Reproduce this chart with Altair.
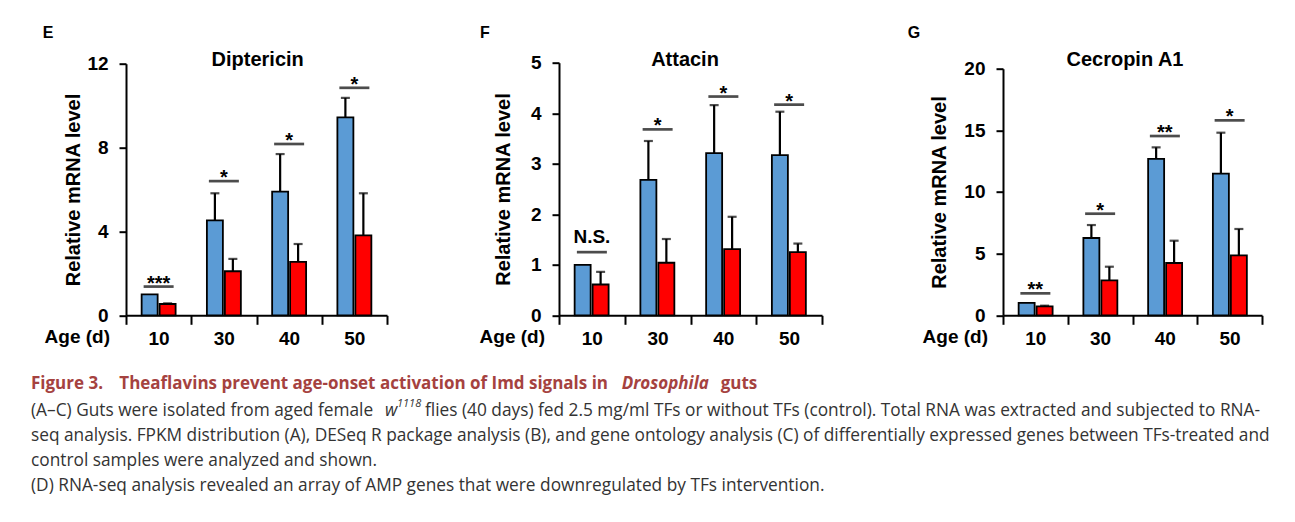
import altair as alt
import pandas as pd

# ---- data -------------------------------------------------------------
ages = ["10", "30", "40", "50"]
groups = ["Control", "TFs"]

dip_ctrl = [1.0, 4.53, 5.90, 9.44]
dip_ctrl_sd = [0.0, 1.29, 1.79, 0.93]
dip_tf = [0.54, 2.10, 2.55, 3.81]
dip_tf_sd = [0.03, 0.59, 0.85, 2.01]
dip_sig_y = [1.37, 6.40, 8.17, 10.85]
dip_sig = ["***", "*", "*", "*"]

att_ctrl = [1.0, 2.68, 3.21, 3.17]
att_ctrl_sd = [0.0, 0.77, 0.95, 0.86]
att_tf = [0.61, 1.04, 1.31, 1.25]
att_tf_sd = [0.25, 0.47, 0.64, 0.17]
att_sig_y = [1.25, 3.68, 4.33, 4.17]
att_sig = ["N.S.", "*", "*", "*"]

cec_ctrl = [1.0, 6.27, 12.68, 11.49]
cec_ctrl_sd = [0.0, 1.05, 0.94, 3.32]
cec_tf = [0.73, 2.84, 4.24, 4.86]
cec_tf_sd = [0.05, 1.10, 1.81, 2.14]
cec_sig_y = [1.78, 8.24, 14.54, 15.81]
cec_sig = ["**", "*", "**", "*"]

caption_title = ["Figure 3.", "Theaflavins prevent age-onset activation of Imd signals in",
                 "Drosophila", "guts"]
caption_line2 = ["(A\u2013C) Guts were isolated from aged female", "w", "1118",
                 "flies (40 days) fed 2.5 mg/ml TFs or without TFs (control). Total RNA was extracted and subjected to RNA-"]
caption_rest = [
    "seq analysis. FPKM distribution (A), DESeq R package analysis (B), and gene ontology analysis (C) of differentially expressed genes between TFs-treated and",
    "control samples were analyzed and shown.",
    "(D) RNA-seq analysis revealed an array of AMP genes that were downregulated by TFs intervention.",
]

# ---- style ------------------------------------------------------------
FONT = "Liberation Sans"
CAP_FONT = "Open Sans"
BLUE = "#5b9bd5"
RED = "#ff0000"
CAP_RED = "#a5423f"
CAP_GREY = "#333333"
H = 252.6
CAP_TITLE_SIZE = 17
CAP_SIZE = 17.3


def text_layer(text, x, y, size, weight="bold", style="normal", color="black",
               align="left", font=FONT):
    return alt.Chart(pd.DataFrame({"t": [text]})).mark_text(
        align=align, baseline="alphabetic", font=font, fontSize=size,
        fontWeight=weight, fontStyle=style, color=color,
    ).encode(x=alt.value(x), y=alt.value(y), text="t:N")


def panel(name, letter, ctrl, ctrl_sd, tf, tf_sd, sig_y, sig, ymax, yticks,
          width, x_span, y_top, title_x, letter_x, age_x, ytitle_x, caption=False):
    bars = pd.DataFrame({
        "age": ages * 2,
        "group": [groups[0]] * 4 + [groups[1]] * 4,
        "value": ctrl + tf,
        "sd": ctrl_sd + tf_sd,
    })
    bars["top"] = bars["value"] + bars["sd"]
    sigdf = pd.DataFrame({"age": ages, "y": sig_y, "label": sig})

    x_axis = alt.Axis(labelAngle=0, labelFont=FONT, labelFontSize=19,
                      labelFontWeight="bold", labelColor="black", labelPadding=5,
                      tickBand="extent", tickSize=9, tickWidth=2, tickColor="black",
                      domainColor="black", domainWidth=2, grid=False)
    x_scale = alt.Scale(range=[0, x_span], paddingInner=0, paddingOuter=0)
    y_scale = alt.Scale(domain=[0, ymax], range=[H, y_top], nice=False, zero=True)
    y_axis = alt.Axis(values=yticks, title="Relative mRNA level", titleFont=FONT,
                      titleFontSize=20, titleFontWeight="bold", titleColor="black",
                      titleAngle=270, titleBaseline="alphabetic", titleX=ytitle_x,
                      labelFont=FONT, labelFontSize=19, labelFontWeight="bold",
                      labelColor="black", labelFlush=False, labelPadding=11,
                      tickSize=7, tickWidth=2, tickColor="black",
                      domainColor="black", domainWidth=2, grid=False)

    def X():
        return alt.X("age:N", sort=ages, title=None, scale=x_scale, axis=x_axis)

    def Y(field):
        return alt.Y(field, scale=y_scale, axis=y_axis)

    off = alt.XOffset("group:N", sort=groups,
                      scale=alt.Scale(paddingInner=0.11, paddingOuter=0.87))

    bar = alt.Chart(bars).mark_bar(stroke="black", strokeWidth=1.8).encode(
        x=X(), xOffset=off, y=Y("value:Q"),
        color=alt.Color("group:N", scale=alt.Scale(domain=groups, range=[BLUE, RED]),
                        legend=None),
    )
    err = alt.Chart(bars).transform_filter("datum.sd > 0").mark_rule(
        color="black", strokeWidth=2.2).encode(
        x=X(), xOffset=off, y=Y("value:Q"), y2="top:Q")
    cap = alt.Chart(bars).transform_filter("datum.sd > 0").mark_tick(
        orient="horizontal", color="black", size=9, thickness=2.2).encode(
        x=X(), xOffset=off, y=Y("top:Q"))
    sig_line = alt.Chart(sigdf).mark_tick(
        orient="horizontal", color="black", size=30, thickness=2.7).encode(
        x=X(), y=Y("y:Q"))
    stars = alt.Chart(sigdf).transform_filter("datum.label != 'N.S.'").mark_text(
        font=FONT, fontSize=20, fontWeight="bold", baseline="alphabetic", dy=3,
        color="black").encode(x=X(), y=Y("y:Q"), text="label:N")
    ns = alt.Chart(sigdf).transform_filter("datum.label == 'N.S.'").mark_text(
        font=FONT, fontSize=19, fontWeight="bold", baseline="alphabetic", dy=-9,
        color="black").encode(x=X(), y=Y("y:Q"), text="label:N")

    layers = [bar, err, cap, sig_line, stars, ns,
              text_layer(name, title_x, 3.3, 20, align="center"),
              text_layer(letter, letter_x, -25, 16),
              text_layer("Age (d)", age_x, 280.3, 19, align="right")]

    if caption:
        cx = -95
        layers += [
            text_layer(caption_title[0], cx, 326.6, CAP_TITLE_SIZE, color=CAP_RED, font=CAP_FONT),
            text_layer(caption_title[1], -6.7, 326.6, CAP_TITLE_SIZE, color=CAP_RED, font=CAP_FONT),
            text_layer(caption_title[2], 495.7, 326.6, CAP_TITLE_SIZE, style="italic",
                       color=CAP_RED, font=CAP_FONT),
            text_layer(caption_title[3], 594.7, 326.6, CAP_TITLE_SIZE, color=CAP_RED, font=CAP_FONT),
            text_layer(caption_line2[0], cx, 353.3, CAP_SIZE, weight="normal",
                       color=CAP_GREY, font=CAP_FONT),
            text_layer(caption_line2[1], 259, 353.3, CAP_SIZE, weight="normal",
                       style="italic", color=CAP_GREY, font=CAP_FONT),
            text_layer(caption_line2[2], 271, 344.3, 11, weight="normal",
                       style="italic", color=CAP_GREY, font=CAP_FONT),
            text_layer(caption_line2[3], 299, 353.3, CAP_SIZE, weight="normal",
                       color=CAP_GREY, font=CAP_FONT),
        ]
        for i, line in enumerate(caption_rest):
            layers.append(text_layer(line, cx, 378.3 + 25 * i, CAP_SIZE, weight="normal",
                                     color=CAP_GREY, font=CAP_FONT))

    return alt.layer(*layers).properties(width=width, height=H)


e = panel("Diptericin", "E", dip_ctrl, dip_ctrl_sd, dip_tf, dip_tf_sd, dip_sig_y, dip_sig,
          12, [0, 4, 8, 12], 261, 261, 1.0, 131.7, -83.3, -16, -47, caption=True)
f = panel("Attacin", "F", att_ctrl, att_ctrl_sd, att_tf, att_tf_sd, att_sig_y, att_sig,
          5, [0, 1, 2, 3, 4, 5], 272, 263, 0.0, 126, -79, -14, -50)
g = panel("Cecropin A1", "G", cec_ctrl, cec_ctrl_sd, cec_tf, cec_tf_sd, cec_sig_y, cec_sig,
          20, [0, 5, 10, 15, 20], 259, 259, 6.0, 122, -95.3, -15, -57)

chart = alt.hconcat(e, f, g, spacing=172, bounds="flush").properties(
    padding={"left": 31, "top": 24.7, "right": 0, "bottom": 8},
    background="white",
).configure_view(stroke=None)

chart.save("out.html", embed_options={"renderer": "svg", "actions": False})
